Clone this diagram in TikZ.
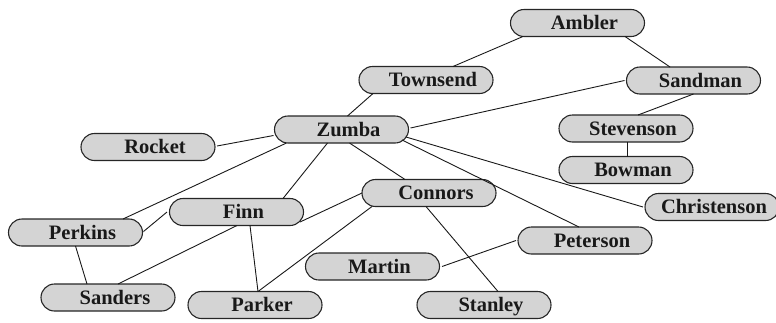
\documentclass[tikz,border=0pt]{standalone}
\usepackage{fontspec}
\setmainfont{Liberation Serif}
\usetikzlibrary{shapes.misc}
\tikzset{
  person/.style={rounded rectangle, draw=black!85, line width=1.1pt, fill=black!17,
    minimum width=138pt, minimum height=27pt, inner xsep=2pt, inner ysep=0pt,
    text height=13.5pt, text depth=0pt,
    font=\fontsize{20.5}{22}\selectfont\bfseries, text=black!90},
  link/.style={draw=black!90, line width=0.9pt}
}
\newcommand{\pn}[2][14pt]{\hspace*{#1}#2}
\begin{document}
\begin{tikzpicture}[x=1pt,y=-1pt]
\useasboundingbox (0,0) rectangle (776,322);
\node[person] (ambler) at (577.5,23) {\pn{Ambler}};
\node[person] (townsend) at (426,80) {\pn{Townsend}};
\node[person] (sandman) at (693.5,80.5) {\pn{Sandman}};
\node[person] (zumba) at (341.5,129.5) {\pn{Zumba}};
\node[person] (rocket) at (148,147) {\pn{Rocket}};
\node[person] (stevenson) at (626,128.5) {\pn{Stevenson}};
\node[person] (bowman) at (626,170) {\pn{Bowman}};
\node[person] (christenson) at (712,207) {\pn[4pt]{Christenson}};
\node[person] (connors) at (429,193) {\pn{Connors}};
\node[person] (perkins) at (75.5,232.5) {\pn{Perkins}};
\node[person] (finn) at (236.5,212) {\pn{Finn}};
\node[person] (peterson) at (585,240.5) {\pn{Peterson}};
\node[person] (martin) at (372.5,266.5) {\pn{Martin}};
\node[person] (sanders) at (108,297.5) {\pn{Sanders}};
\node[person] (parker) at (255,305) {\pn{Parker}};
\node[person] (stanley) at (484,305) {\pn{Stanley}};

\path[link] ([shift={(-54.5,13.5)}]ambler.center) -- ([shift={(27,-13.5)}]townsend.center);
\path[link] ([shift={(47.5,13.5)}]ambler.center) -- ([shift={(-23.5,-13.5)}]sandman.center);
\path[link] ([shift={(-53,13.5)}]townsend.center) -- ([shift={(6,-13.5)}]zumba.center);
\path[link] ([shift={(-69,0)}]sandman.center) -- ([shift={(69,-1.5)}]zumba.center);
\path[link] ([shift={(0,13.5)}]sandman.center) -- ([shift={(12,-13.5)}]stevenson.center);
\path[link] ([shift={(1,13.5)}]stevenson.center) -- ([shift={(1,-13.5)}]bowman.center);
\path[link] ([shift={(-68,6)}]zumba.center) -- ([shift={(69,-1)}]rocket.center);
\path[link] ([shift={(-55,13.5)}]zumba.center) -- ([shift={(47.5,-13.5)}]perkins.center);
\path[link] ([shift={(-14,13.5)}]zumba.center) -- ([shift={(46.5,-13.5)}]finn.center);
\path[link] ([shift={(8,13.5)}]zumba.center) -- ([shift={(-24,-13.5)}]connors.center);
\path[link] ([shift={(60.5,10.5)}]zumba.center) -- ([shift={(-6,-13.5)}]peterson.center);
\path[link] ([shift={(64.5,7.5)}]zumba.center) -- ([shift={(-69,0)}]christenson.center);
\path[link] ([shift={(68,-1)}]perkins.center) -- ([shift={(-69.5,0)}]finn.center);
\path[link] ([shift={(0,13.5)}]perkins.center) -- ([shift={(-21,-13.5)}]sanders.center);
\path[link] ([shift={(0.5,13.5)}]finn.center) -- ([shift={(10,-13.5)}]sanders.center);
\path[link] ([shift={(13.5,13.5)}]finn.center) -- ([shift={(3,-13.5)}]parker.center);
\path[link] ([shift={(63.5,10)}]finn.center) -- ([shift={(-67,0)}]connors.center);
\path[link] ([shift={(-57,13.5)}]connors.center) -- ([shift={(3,-13.5)}]parker.center);
\path[link] ([shift={(-3,13.5)}]connors.center) -- ([shift={(14,-13.5)}]stanley.center);
\path[link] ([shift={(69.5,0)}]martin.center) -- ([shift={(-69,0)}]peterson.center);
\end{tikzpicture}
\end{document}
